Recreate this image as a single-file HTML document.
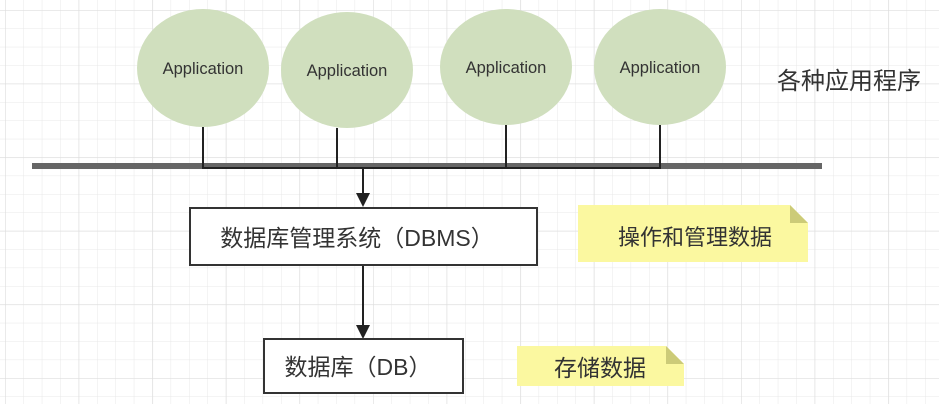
<!DOCTYPE html>
<html><head><meta charset="utf-8"><style>
html,body{margin:0;padding:0;background:#fff;}
svg{display:block;}
text{font-family:"Liberation Sans","Noto Sans CJK SC",sans-serif;fill:#333;}
</style></head><body>
<svg width="939" height="404" viewBox="0 0 939 404" xmlns="http://www.w3.org/2000/svg">
<defs>
<pattern id="g" x="5" y="10" width="18.4" height="18.4" patternUnits="userSpaceOnUse">
<path d="M0 0H18.4M0 0V18.4" stroke="#e8e8e8" stroke-width="1" fill="none"/>
</pattern>
<pattern id="G" x="5" y="10" width="73.6" height="73.6" patternUnits="userSpaceOnUse">
<path d="M0 0H73.6M0 0V73.6" stroke="#dedede" stroke-width="1.3" fill="none"/>
</pattern>
</defs>
<rect width="939" height="404" fill="#fff"/>
<rect width="939" height="404" fill="url(#g)"/>
<rect width="939" height="404" fill="url(#G)"/>
<g fill="#d0dfbe">
<ellipse cx="203" cy="68" rx="66" ry="59"/>
<ellipse cx="347" cy="70" rx="66" ry="58"/>
<ellipse cx="506" cy="67" rx="66" ry="58"/>
<ellipse cx="660" cy="67" rx="66" ry="58"/>
</g>
<g font-size="16.5" text-anchor="middle">
<text x="203" y="74">Application</text>
<text x="347" y="76">Application</text>
<text x="506" y="73">Application</text>
<text x="660" y="73">Application</text>
</g>
<rect x="32" y="163" width="790" height="6" fill="#666"/>
<g stroke="#222" stroke-width="2" fill="none">
<path d="M203 127V168H660V125"/>
<path d="M337 128V168"/>
<path d="M506 125V168"/>
<path d="M363 168V195"/>
<path d="M363 265V327"/>
</g>
<path d="M356 193L370 193L363 207Z" fill="#222"/>
<path d="M356 325L370 325L363 339Z" fill="#222"/>
<rect x="190" y="208" width="347" height="57" fill="#fff" stroke="#333" stroke-width="2"/>
<rect x="264" y="339" width="199" height="54" fill="#fff" stroke="#333" stroke-width="2"/>
<text x="357" y="246" font-size="23" text-anchor="middle">数据库管理系统（DBMS）</text>
<text x="358" y="375" font-size="23" text-anchor="middle">数据库（DB）</text>
<path d="M578 205H790L808 223V262H578Z" fill="#fbf8a0"/>
<path d="M790 205L808 223H790Z" fill="#cccb78"/>
<text x="695" y="245" font-size="22" text-anchor="middle">操作和管理数据</text>
<path d="M517 346H666L684 364V386H517Z" fill="#fbf8a0"/>
<path d="M666 346L684 364H666Z" fill="#cccb78"/>
<text x="600" y="376" font-size="23" text-anchor="middle">存储数据</text>
<text x="777" y="89" font-size="24">各种应用程序</text>
</svg>
</body></html>
